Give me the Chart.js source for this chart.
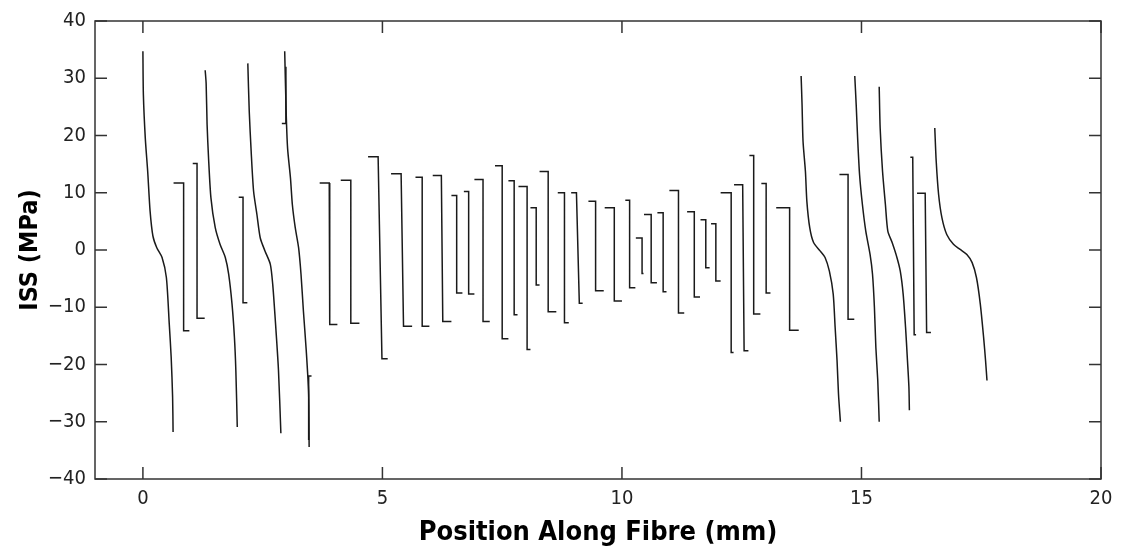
<!DOCTYPE html>
<html>
<head>
<meta charset="utf-8">
<script src="https://cdn.jsdelivr.net/npm/chart.js@4"></script>
<style>
  html, body { margin: 0; padding: 0; background: #fff; }
  #wrap { width: 1121px; height: 554px; }
</style>
</head>
<body>
<div id="wrap"><canvas id="issChart"></canvas></div>
<script>
// ISS profile per fibre fragment (x in mm, ISS in MPa), one row per fragment
const fragX = [
  [0, 0.01, 0.05, 0.10, 0.15, 0.21, 0.29, 0.40, 0.49, 0.55, 0.59, 0.62, 0.63],
  [0.64, 0.85, 0.85, 0.97],
  [1.04, 1.13, 1.13, 1.29],
  [1.30, 1.32, 1.34, 1.37, 1.42, 1.51, 1.61, 1.72, 1.79, 1.86, 1.91, 1.94, 1.97],
  [2.00, 2.09, 2.09, 2.18],
  [2.19, 2.22, 2.26, 2.31, 2.38, 2.45, 2.55, 2.66, 2.71, 2.76, 2.83, 2.88],
  [2.90, 2.985, 2.985],
  [2.96, 2.99, 3.02, 3.08, 3.12, 3.18, 3.25, 3.30, 3.35, 3.41, 3.46, 3.47],
  [3.46, 3.46, 3.52],
  [3.69, 3.89, 3.90, 4.06],
  [4.13, 4.34, 4.34, 4.52],
  [4.70, 4.91, 4.99, 5.11],
  [5.18, 5.39, 5.44, 5.62],
  [5.69, 5.83, 5.83, 5.98],
  [6.05, 6.23, 6.26, 6.44],
  [6.44, 6.55, 6.55, 6.67],
  [6.70, 6.80, 6.80, 6.92],
  [6.92, 7.10, 7.10, 7.24],
  [7.35, 7.50, 7.50, 7.63],
  [7.63, 7.75, 7.75, 7.82],
  [7.84, 8.02, 8.02, 8.09],
  [8.09, 8.21, 8.21, 8.28],
  [8.28, 8.46, 8.46, 8.63],
  [8.66, 8.80, 8.80, 8.89],
  [8.94, 9.05, 9.11, 9.18],
  [9.30, 9.45, 9.45, 9.62],
  [9.64, 9.84, 9.84, 10.0],
  [10.07, 10.16, 10.16, 10.28],
  [10.29, 10.42, 10.42, 10.45],
  [10.46, 10.61, 10.61, 10.73],
  [10.74, 10.86, 10.86, 10.93],
  [10.99, 11.18, 11.18, 11.30],
  [11.36, 11.51, 11.51, 11.63],
  [11.64, 11.75, 11.75, 11.83],
  [11.86, 11.96, 11.96, 12.06],
  [12.06, 12.28, 12.28, 12.33],
  [12.34, 12.52, 12.55, 12.64],
  [12.66, 12.75, 12.75, 12.89],
  [12.91, 13.01, 13.01, 13.10],
  [13.22, 13.50, 13.50, 13.69],
  [13.74, 13.76, 13.78, 13.83, 13.86, 13.92, 14.00, 14.14, 14.24, 14.33, 14.41, 14.45, 14.49, 14.52, 14.56],
  [14.54, 14.72, 14.72, 14.85],
  [14.86, 14.89, 14.92, 14.96, 15.02, 15.09, 15.18, 15.23, 15.27, 15.30, 15.34, 15.37],
  [15.37, 15.39, 15.44, 15.50, 15.55, 15.64, 15.74, 15.81, 15.87, 15.92, 15.96, 15.99, 16.00],
  [16.02, 16.07, 16.10, 16.14],
  [16.16, 16.33, 16.36, 16.45],
  [16.53, 16.56, 16.61, 16.68, 16.78, 16.92, 17.06, 17.20, 17.31, 17.40, 17.48, 17.55, 17.59, 17.62],
];

const fragY = [
  [34.7, 27.1, 19.5, 13.7, 6.8, 2.4, 0.4, -1.3, -4.8, -12.9, -18.7, -25.7, -31.8],
  [11.7, 11.7, -14.1, -14.1],
  [15.1, 15.1, -11.9, -11.9],
  [31.4, 29.1, 21.9, 16.1, 9.1, 3.9, 1.0, -1.3, -4.2, -9.4, -15.2, -21.0, -30.9],
  [9.2, 9.2, -9.2, -9.2],
  [32.6, 24.2, 17.2, 10.3, 6.2, 2.1, -0.2, -2.5, -6.0, -11.8, -21.0, -32.0],
  [22.1, 22.1, 32.0],
  [34.7, 24.2, 17.8, 12.6, 7.9, 3.9, 0.4, -4.2, -10.6, -17.6, -25.1, -34.4],
  [-33.2, -22.0, -22.0],
  [11.7, 11.7, -13.0, -13.0],
  [12.2, 12.2, -12.8, -12.8],
  [16.3, 16.3, -19.0, -19.0],
  [13.3, 13.3, -13.3, -13.3],
  [12.7, 12.7, -13.3, -13.3],
  [13.0, 13.0, -12.5, -12.5],
  [9.5, 9.5, -7.5, -7.5],
  [10.2, 10.2, -7.7, -7.7],
  [12.3, 12.3, -12.5, -12.5],
  [14.7, 14.7, -15.5, -15.5],
  [12.1, 12.1, -11.3, -11.3],
  [11.1, 11.1, -17.4, -17.4],
  [7.4, 7.4, -6.1, -6.1],
  [13.7, 13.7, -10.8, -10.8],
  [10.0, 10.0, -12.7, -12.7],
  [10.0, 10.0, -9.3, -9.3],
  [8.5, 8.5, -7.1, -7.1],
  [7.4, 7.4, -8.9, -8.9],
  [8.7, 8.7, -6.6, -6.6],
  [2.1, 2.1, -4.1, -4.1],
  [6.2, 6.2, -5.7, -5.7],
  [6.5, 6.5, -7.3, -7.3],
  [10.4, 10.4, -11.0, -11.0],
  [6.7, 6.7, -8.2, -8.2],
  [5.3, 5.3, -3.1, -3.1],
  [4.6, 4.6, -5.4, -5.4],
  [10.0, 10.0, -17.9, -17.9],
  [11.4, 11.4, -17.6, -17.6],
  [16.5, 16.5, -11.2, -11.2],
  [11.6, 11.6, -7.5, -7.5],
  [7.4, 7.4, -14.0, -14.0],
  [30.4, 25.3, 19.0, 13.7, 8.5, 3.9, 1.3, -0.2, -1.3, -3.7, -7.7, -13.5, -19.3, -25.1, -30.0],
  [13.2, 13.2, -12.1, -12.1],
  [30.4, 25.3, 19.5, 13.2, 7.9, 3.3, -0.8, -4.2, -10.0, -17.0, -22.8, -30.0],
  [28.5, 21.3, 13.7, 7.9, 3.3, 1.3, -1.3, -3.7, -7.7, -13.5, -19.3, -23.9, -28.0],
  [16.2, 16.2, -14.8, -14.8],
  [9.9, 9.9, -14.4, -14.4],
  [21.3, 15.5, 9.7, 5.6, 2.7, 1.0, 0.1, -0.8, -2.2, -4.8, -9.4, -15.3, -19.3, -22.8],
];

const xTickValues = [0, 5, 10, 15, 20];
const yTickValues = [-40, -30, -20, -10, 0, 10, 20, 30, 40];

// long fragments get a smooth curve, short ones stay as straight steps
const curvePoints = [];
const stepPoints = [];
fragX.forEach((xs, i) => {
  const target = xs.length > 4 ? curvePoints : stepPoints;
  xs.forEach((x, j) => target.push({ x: x, y: fragY[i][j] }));
  target.push({ x: xs[xs.length - 1], y: null });
});

// box round the plot + ticks pointing inwards on all four sides
const frameTicks = {
  id: "frameTicks",
  afterDraw(chart) {
    const { ctx, chartArea: a, scales } = chart;
    ctx.save();
    ctx.strokeStyle = "#333";
    ctx.lineWidth = 1.5;
    ctx.strokeRect(a.left, a.top, a.right - a.left, a.bottom - a.top);
    ctx.beginPath();
    xTickValues.forEach((v) => {
      const px = scales.x.getPixelForValue(v);
      ctx.moveTo(px, a.bottom);
      ctx.lineTo(px, a.bottom - 12);
      ctx.moveTo(px, a.top);
      ctx.lineTo(px, a.top + 12);
    });
    yTickValues.forEach((v) => {
      const py = scales.y.getPixelForValue(v);
      ctx.moveTo(a.left, py);
      ctx.lineTo(a.left + 12, py);
      ctx.moveTo(a.right, py);
      ctx.lineTo(a.right - 12, py);
    });
    ctx.stroke();
    ctx.restore();
  },
};

const fam = "'DejaVu Sans Condensed', 'DejaVu Sans', sans-serif";
const tickFont = { family: fam, size: 20 };

const lineStyle = {
  borderColor: "#1a1a1a",
  borderWidth: 1.5,
  pointRadius: 0,
  spanGaps: false,
  fill: false,
};

new Chart(document.getElementById("issChart"), {
  type: "line",
  data: {
    datasets: [
      { ...lineStyle, data: curvePoints, tension: 0.25 },
      { ...lineStyle, data: stepPoints, tension: 0 },
    ],
  },
  options: {
    responsive: true,
    maintainAspectRatio: false,
    animation: false,
    layout: { padding: { top: 19, right: 20, bottom: 0, left: 0 } },
    plugins: { legend: { display: false }, tooltip: { enabled: false } },
    scales: {
      x: {
        type: "linear",
        min: -1,
        max: 20,
        afterBuildTicks: (scale) => {
          scale.ticks = xTickValues.map((v) => ({ value: v }));
        },
        afterFit: (scale) => {
          scale.height = 75;
        },
        grid: { display: false, drawTicks: false },
        border: { display: false },
        ticks: { font: tickFont, color: "#222", padding: 8, maxRotation: 0 },
        title: {
          display: true,
          text: "Position Along Fibre (mm)",
          font: { family: fam, size: 27, weight: "bold" },
          color: "#000",
          padding: { top: 0, bottom: 5 },
        },
      },
      y: {
        min: -40,
        max: 40,
        afterBuildTicks: (scale) => {
          scale.ticks = yTickValues.map((v) => ({ value: v }));
        },
        afterFit: (scale) => {
          scale.width = 95;
        },
        grid: { display: false, drawTicks: false },
        border: { display: false },
        ticks: {
          font: tickFont,
          color: "#222",
          padding: 9,
          callback: (v) => String(v).replace("-", "\u2212"),
        },
        title: {
          display: true,
          text: "ISS (MPa)",
          font: { family: fam, size: 25, weight: "bold" },
          color: "#000",
          padding: { top: 15, bottom: 0 },
        },
      },
    },
  },
  plugins: [frameTicks],
});
</script>
</body>
</html>
